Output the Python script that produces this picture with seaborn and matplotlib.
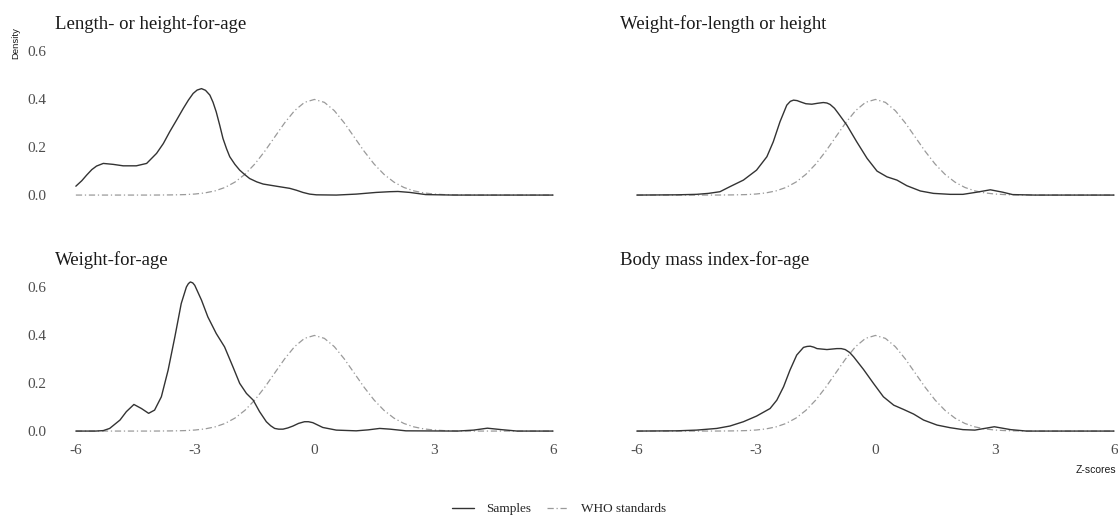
import numpy as np
import pandas as pd
import matplotlib
matplotlib.use("Agg")
import matplotlib.pyplot as plt
import seaborn as sns
from matplotlib.lines import Line2D

# ---------------- data ----------------
panel_titles = ["Length- or height-for-age", "Weight-for-length or height",
                "Weight-for-age", "Body mass index-for-age"]
series_names = ["Samples", "WHO standards"]
x_ticks = [-6, -3, 0, 3, 6]
y_ticks = [0.0, 0.2, 0.4, 0.6]

lha_x = [-6.0, -5.85, -5.73, -5.6, -5.48, -5.31, -5.06, -4.81, -4.48, -4.22, -3.97, -3.8, -3.64,
         -3.47, -3.30, -3.17, -3.05, -2.95, -2.84, -2.74, -2.63, -2.55, -2.47, -2.38, -2.30, -2.21,
         -2.13, -2.0, -1.88, -1.75, -1.63, -1.45, -1.29, -0.96, -0.62, -0.45, -0.29, -0.12, 0.05,
         0.55, 1.05, 1.55, 1.89, 2.1, 2.4, 2.8, 3.5, 6.0]
lha_y = [0.037, 0.060, 0.083, 0.106, 0.121, 0.132, 0.128, 0.122, 0.122, 0.132, 0.174, 0.215, 0.264,
         0.312, 0.361, 0.396, 0.424, 0.438, 0.444, 0.437, 0.417, 0.387, 0.347, 0.290, 0.236, 0.193,
         0.160, 0.128, 0.104, 0.085, 0.069, 0.055, 0.046, 0.037, 0.028, 0.020, 0.011, 0.004, 0.001,
         0.0, 0.004, 0.011, 0.014, 0.015, 0.011, 0.002, 0.0, 0.0]

wlh_x = [-6.0, -5.0, -4.5, -4.2, -3.91, -3.66, -3.32, -2.99, -2.73, -2.57, -2.40, -2.23, -2.14,
         -2.06, -1.97, -1.89, -1.75, -1.60, -1.45, -1.31, -1.22, -1.14, -1.03, -0.93, -0.72, -0.47,
         -0.21, 0.04, 0.29, 0.54, 0.79, 1.13, 1.46, 1.88, 2.2, 2.55, 2.89, 3.2, 3.45, 4.0, 6.0]
wlh_y = [0.0, 0.001, 0.003, 0.007, 0.014, 0.035, 0.0625, 0.104, 0.160, 0.222, 0.306, 0.375, 0.391,
         0.396, 0.394, 0.389, 0.381, 0.379, 0.383, 0.386, 0.384, 0.378, 0.362, 0.340, 0.292, 0.222,
         0.153, 0.100, 0.076, 0.0625, 0.039, 0.017, 0.007, 0.003, 0.003, 0.012, 0.022, 0.012, 0.002,
         0.0, 0.0]

wfa_x = [-6.0, -5.5, -5.31, -5.15, -4.89, -4.73, -4.54, -4.35, -4.17, -4.02, -3.85, -3.68, -3.51,
         -3.35, -3.22, -3.17, -3.12, -3.06, -3.01, -2.84, -2.68, -2.47, -2.26, -2.05, -1.88, -1.71,
         -1.54, -1.38, -1.21, -1.10, -1.00, -0.90, -0.79, -0.67, -0.54, -0.40, -0.25, -0.15, -0.04,
         0.21, 0.55, 1.05, 1.35, 1.64, 1.9, 2.3, 3.6, 4.0, 4.35, 4.7, 5.1, 6.0]
wfa_y = [0.0, 0.0, 0.002, 0.011, 0.046, 0.081, 0.111, 0.094, 0.074, 0.0875, 0.143, 0.254, 0.393,
         0.532, 0.601, 0.615, 0.622, 0.618, 0.608, 0.546, 0.476, 0.407, 0.351, 0.268, 0.199, 0.157,
         0.129, 0.081, 0.039, 0.022, 0.011, 0.008, 0.008, 0.013, 0.021, 0.032, 0.039, 0.039, 0.035,
         0.015, 0.004, 0.001, 0.005, 0.011, 0.008, 0.001, 0.0, 0.004, 0.012, 0.006, 0.0, 0.0]

bmi_x = [-6.0, -5.0, -4.5, -3.99, -3.66, -3.32, -2.99, -2.65, -2.48, -2.31, -2.15, -1.98, -1.81,
         -1.72, -1.64, -1.55, -1.47, -1.22, -0.97, -0.86, -0.76, -0.65, -0.55, -0.30, -0.05, 0.20,
         0.46, 0.71, 0.96, 1.21, 1.55, 1.88, 2.2, 2.5, 2.99, 3.4, 3.8, 6.0]
bmi_y = [0.0, 0.001, 0.004, 0.011, 0.021, 0.039, 0.0625, 0.094, 0.129, 0.185, 0.254, 0.317, 0.349,
         0.353, 0.354, 0.350, 0.344, 0.340, 0.344, 0.344, 0.340, 0.328, 0.310, 0.257, 0.199, 0.143,
         0.108, 0.090, 0.071, 0.046, 0.025, 0.014, 0.006, 0.004, 0.018, 0.006, 0.0, 0.0]

who_x = [-6.0, -5.75, -5.5, -5.25, -5.0, -4.75, -4.5, -4.25, -4.0, -3.75, -3.5, -3.25, -3.0,
         -2.75, -2.5, -2.25, -2.0, -1.75, -1.5, -1.25, -1.0, -0.75, -0.5, -0.25, 0.0,
         0.25, 0.5, 0.75, 1.0, 1.25, 1.5, 1.75, 2.0, 2.25, 2.5, 2.75, 3.0, 3.25, 3.5,
         3.75, 4.0, 4.25, 4.5, 4.75, 5.0, 5.25, 5.5, 5.75, 6.0]
who_y = [0.0, 0.0, 0.0, 0.0, 0.0, 0.0, 0.0, 0.0, 0.0001, 0.0004, 0.0009, 0.0020, 0.0044,
         0.0091, 0.0175, 0.0317, 0.0540, 0.0863, 0.1295, 0.1826, 0.2420, 0.3011, 0.3521, 0.3867, 0.3989,
         0.3867, 0.3521, 0.3011, 0.2420, 0.1826, 0.1295, 0.0863, 0.0540, 0.0317, 0.0175, 0.0091, 0.0044,
         0.0020, 0.0009, 0.0004, 0.0001, 0.0, 0.0, 0.0, 0.0, 0.0, 0.0, 0.0, 0.0]

sample_x = [lha_x, wlh_x, wfa_x, bmi_x]
sample_y = [lha_y, wlh_y, wfa_y, bmi_y]

frames = []
for t, sx, sy in zip(panel_titles, sample_x, sample_y):
    frames.append(pd.DataFrame({"panel": t, "series": series_names[0], "z": sx, "density": sy}))
    frames.append(pd.DataFrame({"panel": t, "series": series_names[1], "z": who_x, "density": who_y}))
df = pd.concat(frames, ignore_index=True)

# ---------------- style ----------------
sns.set_theme(style="white")
serif = ["Liberation Serif", "DejaVu Serif"]
sans = ["Liberation Sans", "DejaVu Sans"]
plt.rcParams["font.family"] = serif

W, H = 1118, 518
fig = plt.figure(figsize=(W / 100, H / 100), dpi=100)

def px_axes(left, top, width, height):
    return fig.add_axes([left / W, (H - top - height) / H, width / W, height / H])

sample_color = "#333333"
who_color = "#9a9a9a"
dashdot = (0, (5, 2.2, 1, 2.2))

positions = [(52, 39), (613, 39), (52, 275), (613, 275)]
title_pos = [(55, 24), (620, 24), (55, 260), (620, 260)]
axes = []
for i, (title, (lx, ty)) in enumerate(zip(panel_titles, positions)):
    ax = px_axes(lx, ty, 505, 163.5)
    axes.append(ax)
    sub = df[df["panel"] == title]
    s = sub[sub["series"] == series_names[0]]
    w = sub[sub["series"] == series_names[1]]
    sns.lineplot(data=w, x="z", y="density", ax=ax, color=who_color, linewidth=0.9,
                 estimator=None)
    ax.lines[-1].set_linestyle(dashdot)
    sns.lineplot(data=s, x="z", y="density", ax=ax, color=sample_color, linewidth=1.0,
                 estimator=None)
    ax.lines[-1].set_solid_joinstyle("round")
    ax.set_xlim(-6.6, 6.1)
    ax.set_ylim(-0.031, 0.651)
    ax.set_xticks(x_ticks)
    ax.set_yticks(y_ticks)
    ax.set_xlabel("")
    ax.set_ylabel("")
    for sp in ax.spines.values():
        sp.set_visible(False)
    ax.tick_params(length=0, labelsize=11, labelcolor="#4d4d4d", pad=4)
    if i in (0, 2):
        ax.set_yticklabels([f"{v:.1f}" for v in y_ticks])
    else:
        ax.set_yticklabels([])
    if i in (2, 3):
        ax.set_xticklabels([str(v) for v in x_ticks])
    else:
        ax.set_xticklabels([])
    tx, tyy = title_pos[i]
    fig.text(tx / W, 1 - tyy / H, title, ha="left", va="center", fontsize=13.5,
             color="#1a1a1a", family=serif)

fig.text(16 / W, 1 - 43 / H, "Density", rotation=90, ha="center", va="center",
         fontsize=6.8, family=sans, color="#1a1a1a")
fig.text(1116 / W, 1 - 470 / H, "Z-scores", ha="right", va="center",
         fontsize=7.5, family=sans, color="#1a1a1a")

handles = [Line2D([], [], color=sample_color, linewidth=1.0),
           Line2D([], [], color=who_color, linewidth=0.9, linestyle=dashdot)]
fig.legend(handles, series_names, loc="center", bbox_to_anchor=(0.5, 1 - 509 / H),
           ncol=2, frameon=False, fontsize=9.5, handlelength=1.7, handletextpad=0.9,
           columnspacing=1.2)

fig.savefig("out.png", dpi=100)
